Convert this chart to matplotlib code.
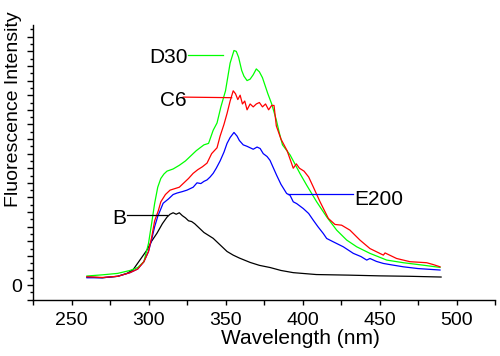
import matplotlib
matplotlib.use("Agg")
import matplotlib.pyplot as plt
from matplotlib.ticker import MultipleLocator, FuncFormatter

plt.rcParams['font.family'] = ['Liberation Sans', 'DejaVu Sans']

# B (black)
wl_b = [260, 270, 280, 286, 290, 295, 299, 302, 305.5, 309, 312, 314, 316, 318, 320, 322, 324,
        326, 328, 330, 333, 336, 342, 346, 351, 355, 359, 366, 372, 379, 386, 394, 409, 430,
        450, 470, 490]
b = [0.55, 0.5, 0.6, 0.8, 1.05, 1.8, 2.4, 3.0, 3.55, 4.2, 4.65, 4.85, 4.95, 4.85, 4.95, 4.75,
     4.6, 4.4, 4.35, 4.2, 3.9, 3.6, 3.2, 2.8, 2.3, 2.05, 1.85, 1.55, 1.35, 1.2, 1.0, 0.85, 0.72,
     0.68, 0.63, 0.6, 0.55]

# D30 (green)
wl_d = [260, 270, 280, 288, 293, 297, 300, 302, 304, 306, 308, 310, 312, 316, 320, 324, 328,
        331, 333.5, 336, 339, 342, 344.5, 347, 350, 353, 355.5, 357, 358.5, 360.5, 362, 364,
        366, 368, 370, 372, 374, 377.5, 380, 383, 385, 387, 392, 398.4, 402.7, 409.2, 415.7,
        422.2, 428.7, 435.2, 443.8, 454.7, 465.5, 477, 489.3]
d = [0.62, 0.7, 0.8, 1.0, 1.2, 1.6, 2.85, 4.2, 5.6, 6.7, 7.3, 7.6, 7.8, 7.95, 8.2, 8.5, 8.9,
     9.2, 9.4, 9.6, 9.7, 10.6, 11.1, 12.2, 13.3, 15.2, 16.06, 16.0, 15.6, 14.7, 14.3, 14.0,
     14.1, 14.4, 14.8, 14.6, 14.2, 13.1, 12.4, 11.3, 10.4, 9.6, 8.9, 7.63, 6.84, 5.7, 4.67,
     3.76, 3.08, 2.62, 2.17, 1.71, 1.53, 1.38, 1.21]

# C6 (red)
wl_c = [260, 270, 280, 288, 293, 297, 300, 302.1, 304, 306.4, 308, 311, 314, 317, 320, 323,
        326, 329, 332, 335, 338, 341, 344.5, 346.5, 349, 351, 353, 355, 356.5, 358, 359.5, 361,
        362.5, 364, 366, 368, 370, 372, 374, 376, 378, 380, 381.5, 383, 386, 390, 392, 394,
        396, 398, 401, 404, 407, 411.4, 416.8, 421.1, 425.4, 430.8, 437.3, 443.8, 452.5,
        453.6, 461.1, 469.8, 480.6, 485, 489.3]
c = [0.57, 0.52, 0.6, 0.85, 1.1, 1.6, 2.3, 3.3, 4.4, 5.1, 5.7, 6.2, 6.5, 6.6, 6.7, 7.0, 7.3,
     7.65, 7.9, 8.1, 8.35, 9.0, 9.4, 10.2, 11.0, 11.75, 12.6, 13.3, 13.1, 12.7, 13.0, 12.4,
     12.6, 12.0, 12.4, 12.2, 12.4, 12.5, 12.2, 12.4, 12.0, 12.3, 12.3, 10.9, 10.0, 9.2, 8.6,
     8.0, 8.3, 8.0, 7.8, 7.4, 6.72, 5.7, 4.56, 4.15, 4.1, 3.76, 3.08, 2.5, 2.05, 2.2, 1.82,
     1.6, 1.53, 1.4, 1.25]

# E200 (blue)
wl_e = [260, 270, 280, 288, 293, 297, 300, 302, 304, 306, 309.5, 313, 316, 318.5, 322, 325,
        327, 329, 331.5, 334, 336, 338, 340, 342, 344, 346.5, 349, 351, 353, 355.5, 357.5, 359,
        361.5, 364, 366, 368, 370.5, 372.5, 374.5, 377, 378.9, 383.2, 386, 389.7, 391.9, 394,
        396.2, 400.5, 404, 407, 410, 413.5, 415.7, 420, 426.5, 433, 438, 441.7, 443.8, 448,
        452.5, 458, 465.5, 475, 489.3]
e = [0.5, 0.5, 0.6, 0.85, 1.1, 1.6, 2.3, 3.1, 4.0, 4.7, 5.6, 5.9, 6.2, 6.3, 6.4, 6.5, 6.6,
     6.7, 7.0, 6.95, 7.1, 7.2, 7.4, 7.65, 8.0, 8.5, 9.1, 9.7, 10.1, 10.45, 10.2, 9.9, 9.6,
     9.5, 9.4, 9.3, 9.45, 9.35, 9.0, 8.8, 8.54, 7.52, 6.9, 6.27, 6.15, 5.7, 5.58, 5.24, 4.9,
     4.44, 4.0, 3.53, 3.19, 2.96, 2.62, 2.17, 1.95, 1.71, 1.82, 1.62, 1.48, 1.38, 1.25, 1.13,
     1.03]

fig = plt.figure(figsize=(5, 3.56), dpi=100)
ax = fig.add_axes([0.066, 0.157, 0.924, 0.7725])

ax.plot(wl_b, b, color='black', lw=0.9)
ax.plot(wl_e, e, color='#0000ff', lw=0.9)
ax.plot(wl_d, d, color='#00ff00', lw=0.9)
ax.plot(wl_c, c, color='#ff0000', lw=0.9)

# labels with leader lines
ax.plot([325.8, 348.2], [15.77, 15.77], color='#00ff00', lw=0.9)
ax.text(325.5, 15.6, 'D30', ha='right', va='center', fontsize=15)
ax.plot([322.5, 354], [12.87, 12.83], color='#ff0000', lw=0.9)
ax.text(324.5, 12.65, 'C6', ha='right', va='center', fontsize=15)
ax.plot([285.8, 311.8], [4.78, 4.78], color='black', lw=0.9)
ax.text(285.5, 4.58, 'B', ha='right', va='center', fontsize=15)
ax.plot([390.8, 433], [6.22, 6.22], color='#0000ff', lw=0.9)
ax.text(433.5, 5.84, 'E200', ha='left', va='center', fontsize=15)

ax.set_xlim(225, 525)
ax.set_ylim(-1.03, 17.8)
ax.spines['top'].set_visible(False)
ax.spines['right'].set_visible(False)
for s in ['left', 'bottom']:
    ax.spines[s].set_linewidth(1.0)

ax.xaxis.set_major_locator(MultipleLocator(50))
ax.xaxis.set_minor_locator(MultipleLocator(25))
ax.yaxis.set_major_locator(MultipleLocator(1))
ax.yaxis.set_minor_locator(MultipleLocator(0.5))
ax.yaxis.set_major_formatter(FuncFormatter(lambda v, p: '0' if abs(v) < 1e-9 else ''))
ax.tick_params(axis='x', which='both', direction='out', length=3.6, width=1.0,
               labelsize=14, pad=5)
ax.tick_params(axis='y', which='major', direction='out', length=4.3, width=1.0,
               labelsize=14, pad=3.5)
ax.tick_params(axis='y', which='minor', direction='out', length=2.2, width=1.0)

fig.text(14 / 500, 1 - 109 / 356, 'Fluorescence Intensity', rotation=90,
         ha='center', va='center', fontsize=14)
fig.text(300 / 500, 1 - 338 / 356, 'Wavelength (nm)', ha='center', va='center', fontsize=15)

fig.savefig('out.png', dpi=100)
